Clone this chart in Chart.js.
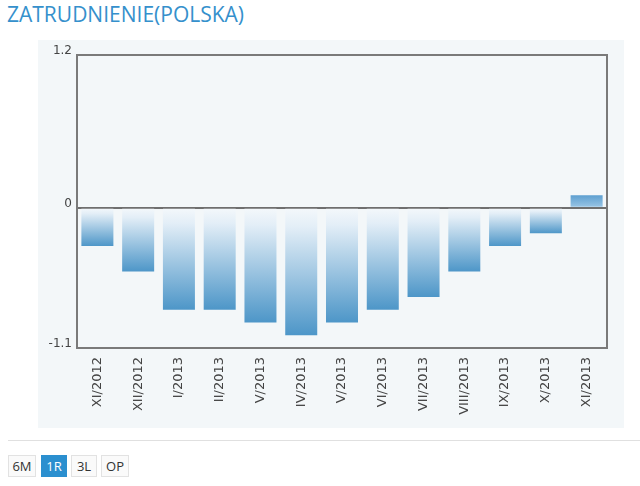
<!DOCTYPE html>
<html>
<head>
<meta charset="utf-8">
<script src="https://cdn.jsdelivr.net/npm/chart.js@4"></script>
<style>
  body { margin: 0; background: #fff; width: 640px; height: 486px; position: relative; overflow: hidden; font-family: "Open Sans", sans-serif; }
  #title { position: absolute; left: 7px; top: 0px; font-size: 21px; color: #3590cc; letter-spacing: 0; }
  #panel { position: absolute; left: 38px; top: 40px; width: 586px; height: 388px; background: #f3f7f9; }
  #sep { position: absolute; left: 8px; top: 440px; width: 632px; height: 1px; background: #e0e0e0; }
  .btn { position: absolute; top: 455px; height: 22px; line-height: 21px; width: 26px; text-align: center; font-size: 13px; color: #333; background: #fafafa; border: 1px solid #e2e2e2; box-sizing: border-box; }
  .btn.on { background: #2b8fcf; color: #fff; border-color: #2b8fcf; }
</style>
</head>
<body>
<div id="title">ZATRUDNIENIE(POLSKA)</div>
<div id="panel"><canvas id="chart" width="586" height="388"></canvas></div>
<div id="sep"></div>
<div class="btn" style="left:8px;width:28px">6M</div>
<div class="btn on" style="left:41px">1R</div>
<div class="btn" style="left:71px">3L</div>
<div class="btn" style="left:101px;width:28px">OP</div>
<script>
const months = ["XI/2012", "XII/2012", "I/2013", "II/2013", "V/2013", "IV/2013", "V/2013",
  "VI/2013", "VII/2013", "VIII/2013", "IX/2013", "X/2013", "XI/2013"];
const employment = [-0.3, -0.5, -0.8, -0.8, -0.9, -1.0, -0.9, -0.8, -0.7, -0.5, -0.3, -0.2, 0.1];
const yTicks = [-1.1, 0, 1.2];

function barFill(ctx) {
  const chart = ctx.chart;
  if (!chart.chartArea || ctx.raw === undefined) return "#5a9fd0";
  const y = chart.scales.y;
  const y0 = y.getPixelForValue(0);
  const y1 = y.getPixelForValue(ctx.raw);
  const g = chart.ctx.createLinearGradient(0, y0, 0, y1);
  if (ctx.raw < 0) {
    g.addColorStop(0, "#f4f8fb");
    g.addColorStop(0.15, "#e3eef7");
    g.addColorStop(1, "#4d96c8");
  } else {
    g.addColorStop(0, "#9cc7e6");
    g.addColorStop(1, "#5d9fd0");
  }
  return g;
}

const boxPlugin = {
  id: "box",
  afterDatasetsDraw(chart) {
    const a = chart.chartArea;
    const c = chart.ctx;
    c.save();
    c.strokeStyle = "#7a7a7a";
    c.lineWidth = 2;
    c.strokeRect(a.left, a.top, a.right - a.left, a.bottom - a.top);
    c.restore();
  }
};

const fontFamily = "'DejaVu Sans', Verdana, sans-serif";

new Chart(document.getElementById("chart"), {
  type: "bar",
  plugins: [boxPlugin],
  data: {
    labels: months,
    datasets: [{
      data: employment,
      backgroundColor: barFill,
      borderWidth: 0,
      barPercentage: 0.785,
      categoryPercentage: 1
    }]
  },
  options: {
    responsive: false,
    animation: false,
    layout: { padding: { left: 0, right: 17, top: 15, bottom: 0 } },
    plugins: { legend: { display: false }, tooltip: { enabled: false } },
    scales: {
      x: {
        grid: { display: false },
        border: { display: false },
        ticks: {
          minRotation: 90, maxRotation: 90, padding: 1,
          color: "#444", font: { family: fontFamily, size: 13 }
        },
        afterFit(scale) { scale.height = 80; }
      },
      y: {
        min: -1.1,
        max: 1.2,
        border: { display: false },
        grid: {
          drawTicks: false,
          color: c => (c.tick && c.tick.value === 0 ? "#6f6f6f" : "rgba(0,0,0,0)"),
          lineWidth: 2
        },
        afterBuildTicks(scale) { scale.ticks = yTicks.map(v => ({ value: v })); },
        ticks: {
          padding: 5,
          labelOffset: -4,
          color: "#444",
          font: { family: fontFamily, size: 12 },
          callback: v => String(v)
        },
        afterFit(scale) { scale.width = 39; }
      }
    }
  }
});
</script>
</body>
</html>
